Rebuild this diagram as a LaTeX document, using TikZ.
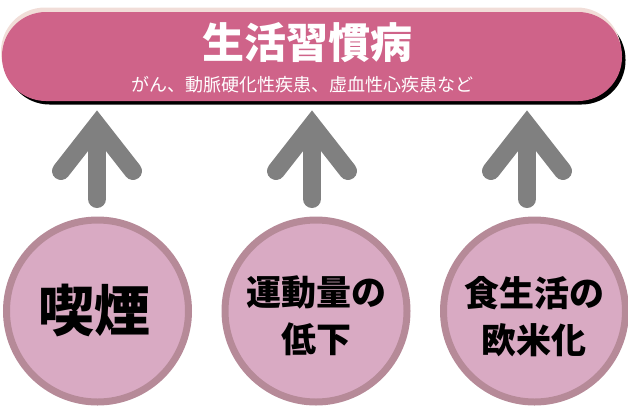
\documentclass[tikz,border=0pt]{standalone}
\usepackage{fontspec}
\setmainfont{Liberation Sans}
\newfontfamily\jp{Noto Sans CJK JP}
\definecolor{bannerpink}{HTML}{CF6389}
\definecolor{bannerlight}{HTML}{F1DDD8}
\definecolor{arrowgray}{HTML}{808080}
\definecolor{circfill}{HTML}{D9AAC3}
\definecolor{circline}{HTML}{B68A98}
\tikzset{
  bannerbox/.style={rectangle, rounded corners=44pt, minimum width=620pt, minimum height=89pt, inner sep=0pt},
  titletext/.style={text=white, font=\jp\bfseries\fontsize{42}{42}\selectfont, inner sep=0pt},
  subtext/.style={text=white, font=\jp\fontsize{18}{18}\selectfont, inner sep=0pt},
  circbox/.style={circle, fill=circfill, draw=circline, line width=7pt, minimum size=182pt, inner sep=0pt},
  bigtext/.style={text=black, font=\jp\bfseries\fontsize{56}{56}\selectfont, inner sep=0pt},
  midtext/.style={text=black, font=\jp\bfseries\fontsize{35}{47}\selectfont, align=center, inner sep=0pt},
  uparrow/.style={draw=arrowgray, line width=18pt, line cap=round, miter limit=10},
}
\begin{document}
\begin{tikzpicture}[x=1pt,y=-1pt]
\useasboundingbox (0,0) rectangle (628,407);
% banner with shadow and light rim
\node[bannerbox, fill=black] (bshadow) at (315.5,60) {};
\node[bannerbox, fill=bannerlight] (blight) at (311,52) {};
\node[bannerbox, fill=bannerpink] (banner) at (312,56.5) {};
\node[titletext] (title) at (307,43) {生活習慣病};
\node[subtext] (sub) at (302,85) {がん、動脈硬化性疾患、虚血性心疾患など};
% circles
\node[circbox] (c1) at (97.5,311) {};
\node[circbox] (c2) at (316,311) {};
\node[circbox] (c3) at (534.5,311) {};
\node[bigtext] (t1) at (94,310.5) {喫煙};
\node[midtext] (t2) at (316,316) {運動量の\\低下};
\node[midtext] (t3) at (534,317) {食生活の\\欧米化};
% arrows
\foreach \i/\x in {1/97,2/312,3/527}{
  \coordinate (tip\i) at (\x,125);
  \coordinate (la\i) at (\x-36,171);
  \coordinate (ra\i) at (\x+36,171);
  \coordinate (st\i) at (\x,140);
  \coordinate (sb\i) at (\x,199);
  \draw[uparrow] (la\i) -- (tip\i) -- (ra\i);
  \draw[uparrow] (st\i) -- (sb\i);
}
\end{tikzpicture}
\end{document}
